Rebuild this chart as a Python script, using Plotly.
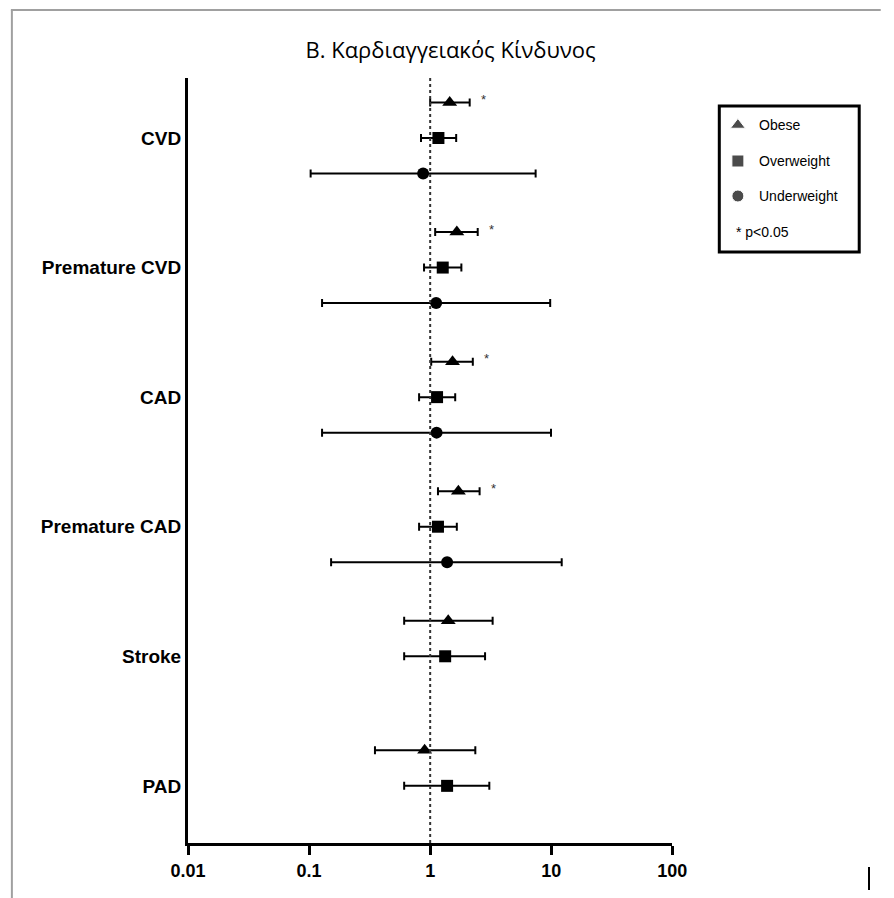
import plotly.graph_objects as go
import numpy as np

# ---------------- data ----------------
outcomes = ["CVD", "Premature CVD", "CAD", "Premature CAD", "Stroke", "PAD"]

obese_or    = [1.45, 1.66, 1.53, 1.71, 1.41, 0.90]
obese_lo    = [1.00, 1.10, 1.02, 1.16, 0.61, 0.35]
obese_hi    = [2.12, 2.47, 2.25, 2.56, 3.28, 2.36]
obese_sig   = [True, True, True, True, False, False]

over_or     = [1.17, 1.27, 1.14, 1.16, 1.33, 1.38]
over_lo     = [0.84, 0.89, 0.81, 0.81, 0.61, 0.61]
over_hi     = [1.64, 1.81, 1.61, 1.66, 2.84, 3.08]

under_or    = [0.875, 1.12, 1.13, 1.38]
under_lo    = [0.103, 0.128, 0.128, 0.152]
under_hi    = [7.43, 9.8, 9.95, 12.2]

x_ticks = [0.01, 0.1, 1, 10, 100]
x_tick_labels = ["0.01", "0.1", "1", "10", "100"]

title_text = "Β. Καρδιαγγειακός Κίνδυνος"
legend_names = ["Obese", "Overweight", "Underweight"]
legend_note = "* p<0.05"

# ---------------- layout helpers ----------------
GROUP_STEP = 3.65
centers = [i * GROUP_STEP for i in range(len(outcomes))]
y_obese = [c - 1 for c in centers]
y_over = centers
y_under = [c + 1 for c in centers[:len(under_or)]]

W, H = 894, 898
ML, MR, MT, MB = 188, 10, 78, 55
PW = W - ML - MR
PH = H - MT - MB
main_right = 683


def xdom(px):
    return (px - ML) / PW


def ydom(py):
    return (MT + PH - py) / PH


def err(orv, lo, hi):
    return dict(type="data", symmetric=False,
                array=[h - o for o, h in zip(orv, hi)],
                arrayminus=[o - l for o, l in zip(orv, lo)],
                color="black", thickness=2, width=4)


fig = go.Figure()

fig.add_trace(go.Scatter(x=obese_or, y=y_obese, mode="markers",
                         marker=dict(symbol="triangle-up", size=13, color="black"),
                         error_x=err(obese_or, obese_lo, obese_hi),
                         showlegend=False, cliponaxis=False))
fig.add_trace(go.Scatter(x=over_or, y=y_over, mode="markers",
                         marker=dict(symbol="square", size=12, color="black"),
                         error_x=err(over_or, over_lo, over_hi),
                         showlegend=False, cliponaxis=False))
fig.add_trace(go.Scatter(x=under_or, y=y_under, mode="markers",
                         marker=dict(symbol="circle", size=12, color="black"),
                         error_x=err(under_or, under_lo, under_hi),
                         showlegend=False, cliponaxis=False))

# significance asterisks
for hi, yv, s in zip(obese_hi, y_obese, obese_sig):
    if s:
        fig.add_annotation(x=np.log10(hi), y=yv, xref="x", yref="y",
                           text="*", showarrow=False, xanchor="left",
                           xshift=9, yshift=3,
                           font=dict(family="Liberation Sans", size=13, color="#333"))

# reference line at OR = 1
fig.add_shape(type="line", xref="x", yref="paper", x0=1, x1=1, y0=0, y1=1,
              line=dict(color="#333", width=2, dash="dot"))

# ---------------- legend (manual) ----------------
leg_symbols = ["triangle-up", "square", "circle"]
leg_sizes = [13, 12, 12]
leg_y = [19, 55, 90]
fig.add_trace(go.Scatter(x=[19] * 3, y=leg_y, mode="markers",
                         marker=dict(symbol=leg_symbols, size=leg_sizes, color="black"),
                         xaxis="x2", yaxis="y2", showlegend=False, hoverinfo="skip"))
for name, yv in zip(legend_names, leg_y):
    fig.add_annotation(x=39, y=yv, xref="x2", yref="y2", text=name, showarrow=False,
                       xanchor="left", font=dict(family="Liberation Sans", size=14, color="black"))
fig.add_annotation(x=15, y=126, xref="x2", yref="y2", text=legend_note, showarrow=False,
                   xanchor="left", font=dict(family="Liberation Sans", size=14, color="black"))
fig.add_shape(type="rect", xref="x2 domain", yref="y2 domain", x0=0, x1=1, y0=0, y1=1,
              line=dict(color="black", width=3), fillcolor="rgba(0,0,0,0)")

# ---------------- page frame ----------------
fig.add_shape(type="line", xref="paper", yref="paper",
              x0=xdom(7), x1=xdom(W + 2), y0=ydom(10), y1=ydom(10),
              line=dict(color="#a0a0a0", width=2))
fig.add_shape(type="line", xref="paper", yref="paper",
              x0=xdom(8), x1=xdom(8), y0=ydom(10), y1=ydom(H + 2),
              line=dict(color="#a0a0a0", width=2))
fig.add_shape(type="line", xref="paper", yref="paper",
              x0=xdom(884), x1=xdom(884), y0=ydom(867), y1=ydom(890),
              line=dict(color="black", width=2))

fig.update_layout(
    width=W, height=H,
    margin=dict(l=ML, r=MR, t=MT, b=MB),
    paper_bgcolor="white", plot_bgcolor="white",
    title=dict(text=title_text, x=0.504, xanchor="center", y=1 - 50 / H, yanchor="middle",
               font=dict(family="Open Sans", size=22, color="black")),
    xaxis=dict(type="log", range=[-2, 2], domain=[0, xdom(main_right)],
               tickvals=x_ticks, ticktext=x_tick_labels,
               showline=True, linecolor="black", linewidth=3,
               ticks="outside", ticklen=9, tickwidth=2.5, tickcolor="black",
               showgrid=False, zeroline=False,
               tickfont=dict(family="Liberation Sans", size=18, color="black", weight="bold")),
    yaxis=dict(range=[19.86, -1.69], tickvals=centers, ticktext=outcomes,
               showline=True, linecolor="black", linewidth=3, ticks="",
               showgrid=False, zeroline=False, anchor="x",
               tickfont=dict(family="Liberation Sans", size=19, color="black", weight="bold")),
    xaxis2=dict(domain=[xdom(731), xdom(874)], range=[0, 143], visible=False,
                anchor="y2", fixedrange=True),
    yaxis2=dict(domain=[ydom(252), ydom(106)], range=[146, 0], visible=False,
                anchor="x2", fixedrange=True),
)

fig.write_html("out.html")
